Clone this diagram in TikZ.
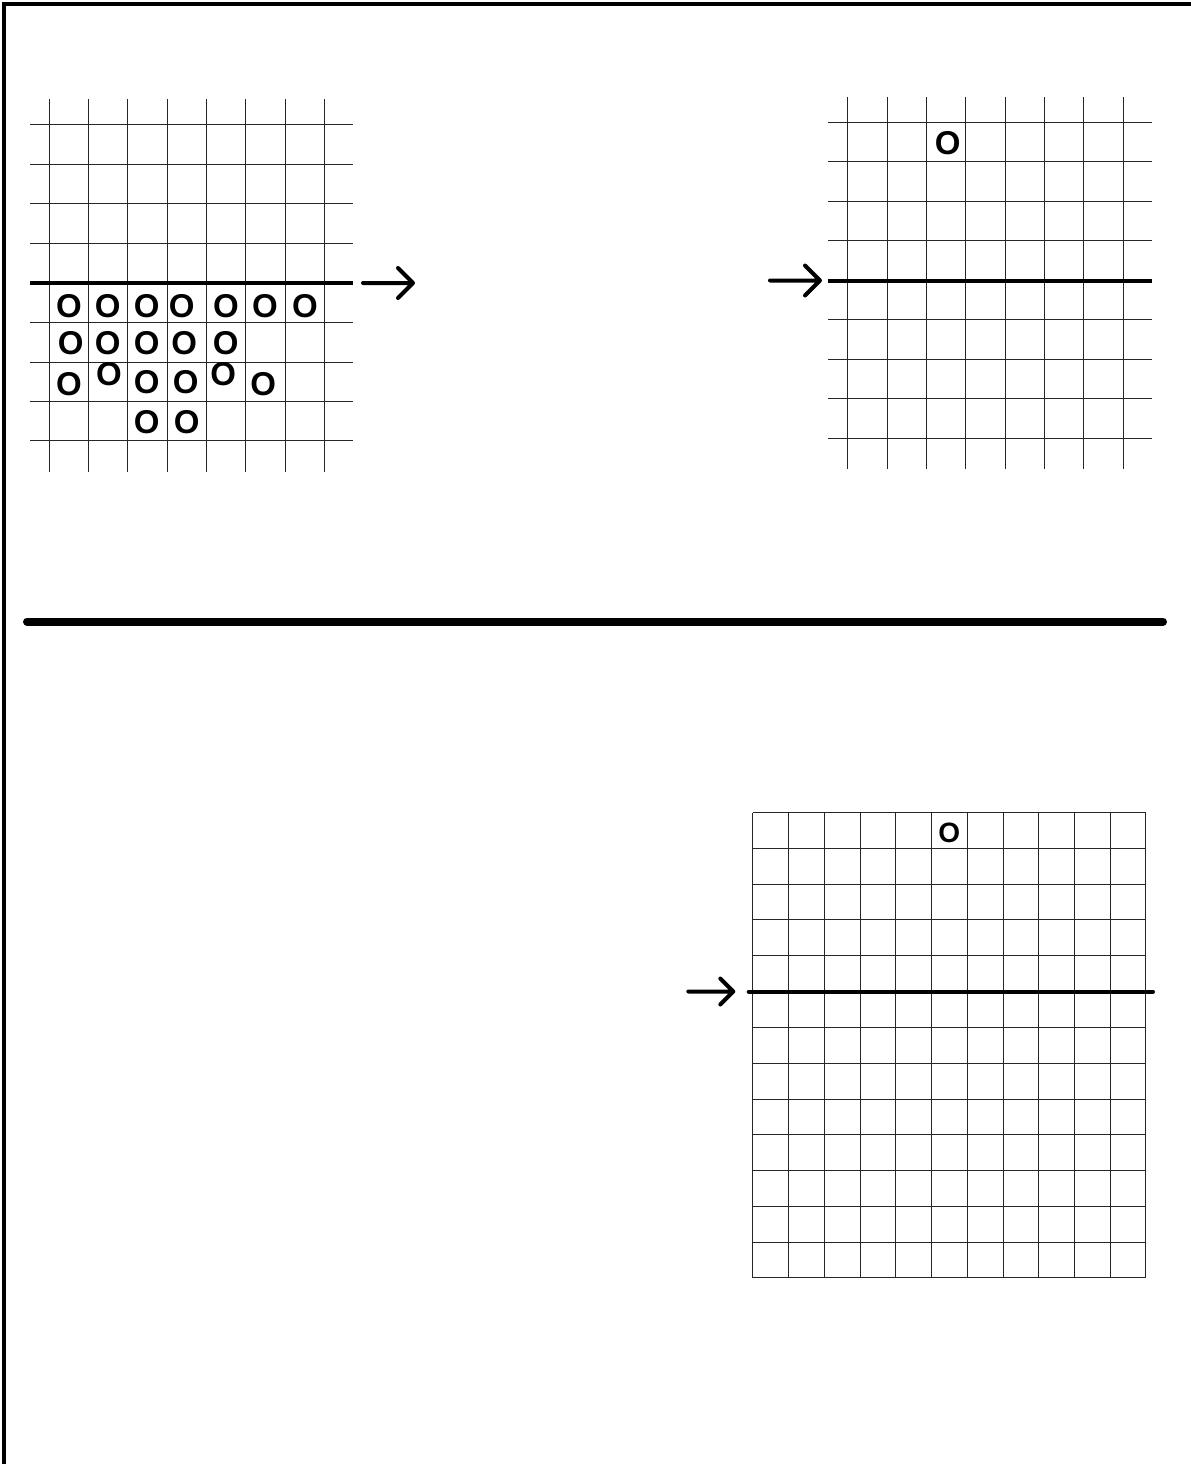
\documentclass[tikz,border=0pt]{standalone}
\usepackage{fontspec}
\setmainfont{Liberation Sans}
\begin{document}
\begin{tikzpicture}[x=1pt,y=-1pt,
  gridline/.style={line width=1.2pt,black!85},
  thickline/.style={line width=4pt},
  arrowline/.style={line width=4pt,line cap=round,line join=round},
  border/.style={line width=4pt},
  stone/.style={inner sep=0pt,font=\bfseries\fontsize{33}{33}\selectfont},
  smallstone/.style={inner sep=0pt,font=\bfseries\fontsize{28}{28}\selectfont}]
\useasboundingbox (0,0) rectangle (1191,1464);
\fill[white] (0,0) rectangle (1191,1464);
% frame
\draw[border] (4,1464) -- (4,4) -- (1191,4);
% divider
\draw[line width=8pt,line cap=round] (27,621.5) -- (1163,621.5);

% ---------- top-left grid ----------
\foreach \x in {49.5,88.5,127.5,167.5,206.5,245.5,285.5,324.5}
  \draw[gridline] (\x,99) -- (\x,472);
\foreach \y in {124.5,164.5,203.5,243.5,322.5,362.5,401.5,440.5}
  \draw[gridline] (30,\y) -- (353,\y);
\draw[thickline] (30,283) -- (353,283);
\coordinate (la) at (363,283);
\coordinate (lb) at (413,283);
\draw[arrowline] (la) -- (lb) (lb) ++(-15,-15) -- (lb) -- ++(-15,15);
\foreach \x in {69,107.7,146.7,181.7,226,265,305} \node[stone] at (\x,305.7) {O};
\foreach \x in {70.7,107.7,146.7,184.3,225.7} \node[stone] at (\x,343.3) {O};
\foreach \x/\y in {69/384,109/373.8,146.7/381.7,185.7/381.7,223.3/373.8,263.3/384} \node[stone] at (\x,\y) {O};
\foreach \x in {146.7,186.7} \node[stone] at (\x,422.3) {O};

% ---------- top-right grid ----------
\foreach \x in {847.5,887.5,926.5,965.5,1005.5,1044.5,1083.5,1123.5}
  \draw[gridline] (\x,96.7) -- (\x,469.3);
\foreach \y in {122.5,161.5,201.5,240.5,319.5,359.5,398.5,438.5}
  \draw[gridline] (828.3,\y) -- (1152.3,\y);
\draw[thickline] (828.3,280.5) -- (1152.3,280.5);
\coordinate (ra) at (770,280.5);
\coordinate (rb) at (820,280.5);
\draw[arrowline] (ra) -- (rb) (rb) ++(-15,-15) -- (rb) -- ++(-15,15);
\node[stone] at (947.7,143.3) {O};

% ---------- bottom grid ----------
\foreach \x in {752.5,788.5,824.5,860.5,895.5,931.5,967.5,1003.5,1038.5,1074.5,1110.5,1145.5}
  \draw[gridline] (\x,812.5) -- (\x,1277.5);
\foreach \y in {812.5,848.5,884.5,919.5,955.5,1027.5,1063.5,1099.5,1134.5,1170.5,1206.5,1242.5,1277.5}
  \draw[gridline] (752.5,\y) -- (1145.5,\y);
\draw[thickline,line cap=round] (748.7,991.5) -- (1153,991.5);
\coordinate (ba) at (688.3,991.5);
\coordinate (bb) at (733.3,991.5);
\draw[arrowline] (ba) -- (bb) (bb) ++(-13,-13) -- (bb) -- ++(-13,13);
\node[smallstone] at (949.3,833.3) {O};
\end{tikzpicture}
\end{document}
